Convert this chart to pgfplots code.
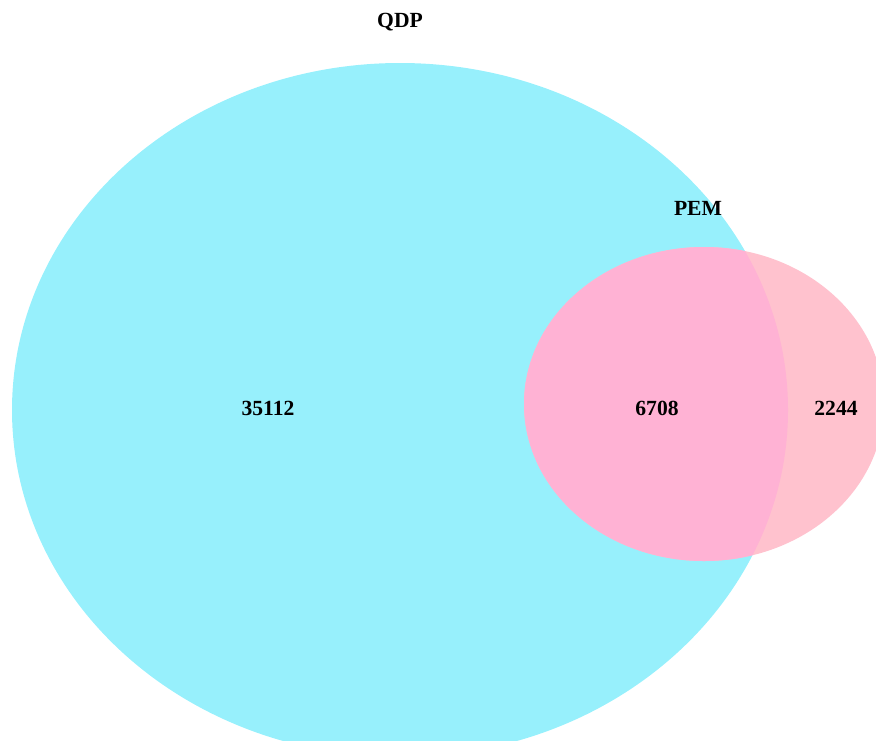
\documentclass[border=0pt]{standalone}
\usepackage{pgfplots}
\pgfplotsset{compat=1.18}
\usepackage{fontspec}
\setmainfont{Liberation Serif}
\definecolor{qdp}{RGB}{151,240,252}
\definecolor{pem}{RGB}{255,194,206}
\definecolor{both}{RGB}{255,178,212}
\begin{document}
\begin{tikzpicture}
\begin{axis}[
  x=0.5pt, y=0.5pt,
  xmin=0, xmax=876, ymin=0, ymax=740,
  y dir=reverse,
  axis lines=none, ticks=none,
  clip=true,
  scale only axis,
]
\path (axis cs:0,0) rectangle (axis cs:876,740);
\fill[qdp] (axis cs:400,410) ellipse [x radius=388, y radius=347];
\fill[pem] (axis cs:704,404) ellipse [x radius=180, y radius=157];
\begin{scope}
\clip (axis cs:704,404) ellipse [x radius=180, y radius=157];
\fill[both] (axis cs:400,410) ellipse [x radius=388, y radius=347];
\end{scope}
\addplot[only marks, mark=none, nodes near coords, point meta=explicit symbolic,
  nodes near coords style={anchor=center, font=\bfseries\fontsize{10.8}{13}\selectfont, text=black}]
  coordinates {(400,22)[QDP] (698,208)[PEM] (268,408)[35112] (657,408)[6708] (836,408)[2244]};
\end{axis}
\end{tikzpicture}
\end{document}
